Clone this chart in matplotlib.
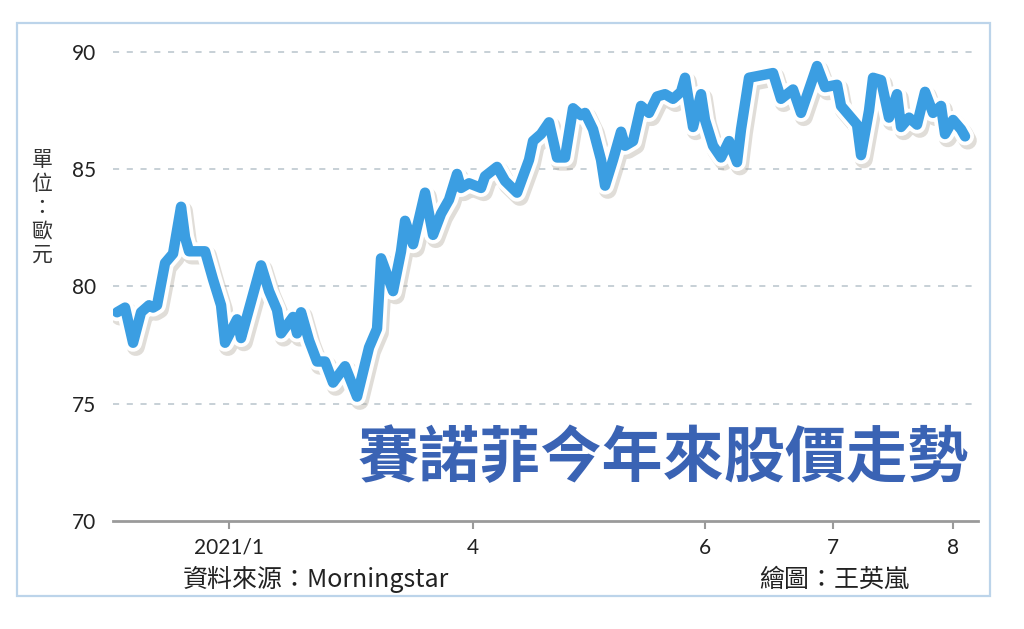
import matplotlib
matplotlib.use("Agg")
import matplotlib.pyplot as plt
import matplotlib.patheffects as pe
from matplotlib.patches import Rectangle

plt.rcParams['font.family'] = ['Noto Sans CJK TC', 'DejaVu Sans']

# trading-day index and closing price (EUR)
days = [0, 2, 4, 6, 8, 9, 10, 12, 14, 16, 17, 18, 22, 24, 26, 27, 30, 31,
        36, 38, 40, 41, 44, 45, 46, 48, 50, 52, 54, 57, 60, 63, 65, 66, 69,
        71, 72, 74, 77, 79, 81, 83, 85, 86, 88, 91, 92, 95, 97, 100, 103,
        104, 106, 108, 110, 112, 114, 116, 117, 119, 121, 122, 124, 126,
        127, 129, 131, 133, 135, 137, 139, 141, 142, 144, 146, 147, 149,
        151, 153, 155, 156, 158, 161, 164, 166, 169, 171, 173, 175, 177,
        180, 181, 184, 185, 186, 188, 189, 191, 193, 195, 196, 198, 200,
        202, 204, 206, 207, 209, 211, 212]
prices = [78.9, 79.1, 77.6, 78.9, 79.2, 79.1, 79.2, 81.0, 81.4, 83.4, 82.1,
          81.5, 81.5, 80.3, 79.2, 77.6, 78.6, 77.8, 80.9, 79.8, 79.0, 78.0,
          78.7, 78.0, 78.9, 77.7, 76.8, 76.8, 75.9, 76.6, 75.3, 77.4, 78.2,
          81.2, 79.8, 81.5, 82.8, 81.8, 84.0, 82.2, 83.1, 83.7, 84.8, 84.2,
          84.4, 84.2, 84.7, 85.1, 84.5, 84.0, 85.4, 86.2, 86.5, 87.0, 85.5,
          85.5, 87.6, 87.3, 87.4, 86.7, 85.4, 84.3, 85.4, 86.6, 86.0, 86.2,
          87.7, 87.4, 88.1, 88.2, 88.0, 88.3, 88.9, 86.8, 88.2, 87.1, 86.0,
          85.5, 86.2, 85.3, 86.7, 88.9, 89.0, 89.1, 88.0, 88.4, 87.4, 88.4,
          89.4, 88.5, 88.6, 87.7, 87.1, 86.9, 85.6, 87.5, 88.9, 88.8, 87.2,
          88.2, 86.8, 87.2, 86.9, 88.3, 87.4, 87.7, 86.5, 87.1, 86.7, 86.4]

tick_days = [28, 89, 147, 179, 209]
tick_labels = ["2021/1", "4", "6", "7", "8"]
y_ticks = [70, 75, 80, 85, 90]

fig = plt.figure(figsize=(10.24, 6.29), dpi=100)
ax = fig.add_axes([0.1104, 0.1717, 0.8447, 0.783])

line_color = "#3b9ee2"
ax.plot(days, prices, color=line_color, lw=7.5, solid_joinstyle="round",
        solid_capstyle="round", zorder=3,
        path_effects=[pe.SimpleLineShadow(offset=(2, -3), shadow_color="#a89e90",
                                          alpha=0.35, linewidth=13),
                      pe.Stroke(linewidth=13, foreground="white"),
                      pe.Normal()])

ax.set_xlim(-1, 215.25)
ax.set_ylim(70, 91)

for v in y_ticks[1:]:
    ax.axhline(v, color="#b8c4cc", lw=1.1, ls=(0, (4, 5)), zorder=1)

for side in ["top", "right", "left"]:
    ax.spines[side].set_visible(False)
ax.spines["bottom"].set_color("#9a9a9a")
ax.spines["bottom"].set_linewidth(2)

ax.set_yticks(y_ticks)
ax.set_yticklabels([str(v) for v in y_ticks], fontsize=15, family=["Lato", "DejaVu Sans"])
ax.tick_params(axis="y", length=0, pad=12, colors="#222222")
ax.set_xticks(tick_days)
ax.set_xticklabels(tick_labels, fontsize=15, family=["Lato", "DejaVu Sans"])
ax.tick_params(axis="x", length=6, width=1.5, color="#9a9a9a", pad=6, labelcolor="#222222")

ax.text(0.283, 0.125, "賽諾菲今年來股價走勢", transform=ax.transAxes,
        fontsize=44, fontweight="bold", color="#3a63b4", va="center", ha="left", zorder=4)

fig.text(0.041, 0.670, "\n".join("單位：歐元"), fontsize=15, color="#333333",
         ha="center", va="center", linespacing=1.1)

fig.text(0.178, 0.078, "資料來源：Morningstar", fontsize=18, color="#222222",
         ha="left", va="center")
fig.text(0.741, 0.078, "繪圖：王英嵐", fontsize=18, color="#222222",
         ha="left", va="center")

fig.patches.append(Rectangle((0.0166, 0.0525), 0.950, 0.911, transform=fig.transFigure,
                             fill=False, edgecolor="#bcd4ea", lw=1.6))

fig.savefig("out.png", dpi=100, facecolor="white")
